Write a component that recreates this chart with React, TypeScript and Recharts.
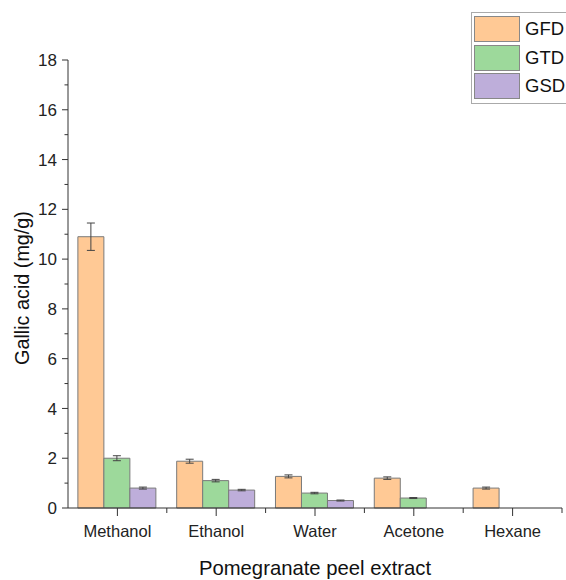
import { BarChart, Bar, XAxis, YAxis, ErrorBar, Legend } from "recharts";

const categories = ["Methanol", "Ethanol", "Water", "Acetone", "Hexane"];
const gfd = [10.9, 1.88, 1.27, 1.2, 0.8];
const gtd = [2.0, 1.1, 0.6, 0.4, null];
const gsd = [0.8, 0.72, 0.3, null, null];
const gfdErr = [0.55, 0.08, 0.06, 0.05, 0.04];
const gtdErr = [0.1, 0.05, 0.03, 0.02, null];
const gsdErr = [0.04, 0.03, 0.02, null, null];
const yTicks = [0, 1, 2, 3, 4, 5, 6, 7, 8, 9, 10, 11, 12, 13, 14, 15, 16, 17, 18];

const SERIES = [
  { key: "GFD", err: "GFDerr", fill: "#FFC995" },
  { key: "GTD", err: "GTDerr", fill: "#9DD99B" },
  { key: "GSD", err: "GSDerr", fill: "#BEAEDA" },
];

const data = categories.map((name, i) => ({
  name,
  GFD: gfd[i],
  GTD: gtd[i],
  GSD: gsd[i],
  GFDerr: gfdErr[i],
  GTDerr: gtdErr[i],
  GSDerr: gsdErr[i],
}));

const FONT = "'Liberation Sans', Arial, sans-serif";
const CHART_W = 566;
const MARGIN = { top: 60, right: 4, bottom: 0, left: 0 };
const Y_W = 68;
const BAND = (CHART_W - MARGIN.left - MARGIN.right - Y_W) / categories.length;

function YTick({ x, y, payload }: any) {
  const major = payload.value % 2 === 0;
  return (
    <g>
      <line x1={x} x2={x - (major ? 6 : 3.5)} y1={y} y2={y} stroke="#333" />
      {major && (
        <text x={x - 11} y={y} dy="0.36em" textAnchor="end" fontSize={17} fontFamily={FONT} fill="#222">
          {payload.value}
        </text>
      )}
    </g>
  );
}

function XTick({ x, y, payload }: any) {
  return (
    <g>
      <line x1={x} x2={x} y1={y} y2={y + 8} stroke="#333" />
      <line x1={x + BAND / 2} x2={x + BAND / 2} y1={y} y2={y + 5} stroke="#333" />
      <text x={x} y={y + 29} textAnchor="middle" fontSize={16.5} fontFamily={FONT} fill="#222">
        {payload.value}
      </text>
    </g>
  );
}

// legend box runs off the right edge like the original, text kept inside the page
function LegendBox() {
  return (
    <div
      style={{
        border: "1px solid #aaa",
        padding: "2px 0 2px 2px",
        width: 110,
        background: "#fff",
        fontFamily: FONT,
      }}
    >
      {SERIES.map((s) => (
        <div key={s.key} style={{ display: "flex", alignItems: "center", height: 28.5 }}>
          <div
            style={{
              width: 46,
              height: 26,
              background: s.fill,
              border: "1px solid #888",
              boxSizing: "border-box",
            }}
          />
          <span style={{ marginLeft: 5, fontSize: 18.5, color: "#111" }}>{s.key}</span>
        </div>
      ))}
    </div>
  );
}

export default function App() {
  return (
    <div style={{ position: "absolute", left: 0, top: 0, width: 566, height: 580, overflow: "hidden", background: "#fff" }}>
      <BarChart
        width={CHART_W}
        height={580}
        data={data}
        margin={MARGIN}
        barCategoryGap="10%"
        barGap={0}
      >
        <XAxis
          dataKey="name"
          height={72}
          tick={<XTick />}
          tickSize={0}
          tickMargin={0}
          tickLine={false}
          axisLine={{ stroke: "#333" }}
          interval={0}
          label={{
            content: () => (
              <text x={315} y={575} textAnchor="middle" fontSize={20.3} fontFamily={FONT} fill="#111">
                Pomegranate peel extract
              </text>
            ),
          }}
        />
        <YAxis
          width={Y_W}
          type="number"
          domain={[0, 18]}
          ticks={yTicks}
          interval={0}
          tick={<YTick />}
          tickSize={0}
          tickMargin={0}
          tickLine={false}
          axisLine={{ stroke: "#333" }}
          label={{
            content: () => (
              <text
                x={29}
                y={288}
                transform="rotate(-90 29 288)"
                textAnchor="middle"
                fontSize={19.8}
                fontFamily={FONT}
                fill="#111"
              >
                Gallic acid (mg/g)
              </text>
            ),
          }}
        />
        <Legend
          layout="vertical"
          verticalAlign="middle"
          align="center"
          content={<LegendBox />}
          wrapperStyle={{ position: "absolute", left: 471, top: 12, width: 120 }}
        />
        {SERIES.map((s) => (
          <Bar key={s.key} dataKey={s.key} fill={s.fill} stroke="#7a7a7a" strokeWidth={1} isAnimationActive={false}>
            <ErrorBar dataKey={s.err} width={4} stroke="#444" strokeWidth={1} isAnimationActive={false} />
          </Bar>
        ))}
      </BarChart>
    </div>
  );
}
